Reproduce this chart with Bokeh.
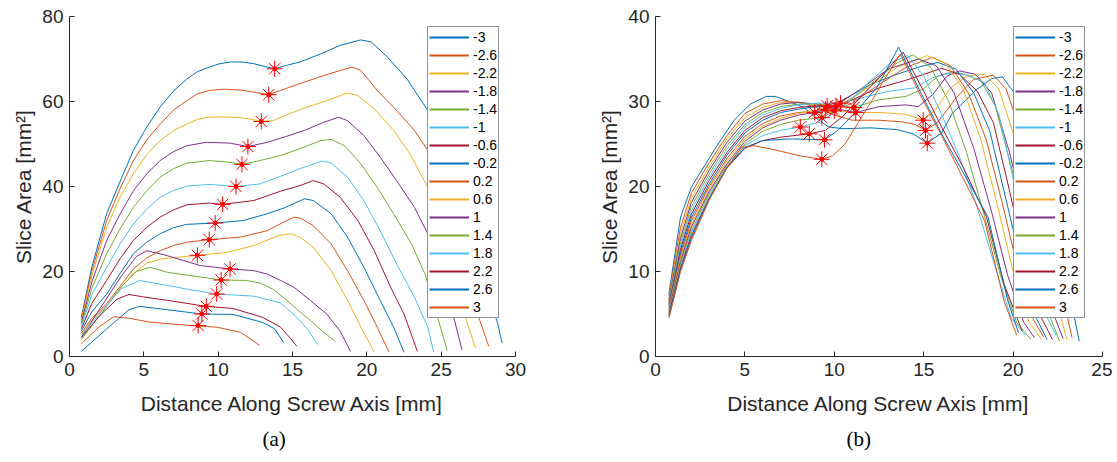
from bokeh.plotting import figure
from bokeh.models import Range1d, FixedTicker, Legend, LegendItem, Title
from bokeh.layouts import row
from bokeh.embed import file_html
from bokeh.resources import INLINE

labels = ["-3", "-2.6", "-2.2", "-1.8", "-1.4", "-1", "-0.6", "-0.2",
          "0.2", "0.6", "1", "1.4", "1.8", "2.2", "2.6", "3"]
palette = ["#0072BD", "#D95319", "#EDB120", "#7E2F8E", "#77AC30", "#4DBEEE", "#A2142F"]
colors = [palette[i % 7] for i in range(16)]

x_label = "Distance Along Screw Axis [mm]"
y_label = "Slice Area [mm²]"
a_xticks = [0, 5, 10, 15, 20, 25, 30]
a_yticks = [0, 20, 40, 60, 80]
b_xticks = [0, 5, 10, 15, 20, 25]
b_yticks = [0, 10, 20, 30, 40]

# ---------------- panel (a) ----------------
a_m30_x = [0.8, 1.5, 2.5, 3.5, 4.3, 5.2, 6.1, 7.0, 7.9, 8.6, 9.4, 10.0, 10.8, 11.6, 12.4, 13.3, 13.8, 14.6, 15.5, 16.9, 18.2, 19.6, 20.3, 21.4, 22.7, 24.1, 25.0, 26.0, 27.0, 28.0, 28.8, 29.1]
a_m30_y = [9.3, 21.0, 33.6, 42.0, 48.5, 54.0, 58.7, 62.5, 65.3, 67.0, 68.1, 68.8, 69.3, 69.3, 68.9, 68.1, 67.7, 68.5, 69.3, 71.2, 73.2, 74.5, 74.0, 70.4, 65.3, 57.9, 48.5, 38.0, 27.0, 16.5, 7.8, 3.1]
a_m26_x = [0.8, 1.5, 2.5, 3.4, 4.3, 5.2, 6.1, 7.0, 7.9, 8.6, 9.4, 10.4, 11.5, 12.4, 13.4, 14.2, 15.5, 17.1, 18.3, 19.0, 19.6, 20.7, 22.0, 23.2, 24.1, 25.0, 26.0, 27.0, 27.6, 28.2]
a_m26_y = [8.9, 20.0, 32.0, 39.5, 46.1, 51.0, 54.7, 58.0, 60.2, 61.8, 62.6, 62.9, 62.7, 62.2, 61.6, 62.6, 64.2, 66.1, 67.4, 68.1, 67.3, 62.6, 57.9, 53.2, 48.5, 38.5, 27.0, 15.5, 8.5, 2.4]
a_m22_x = [0.8, 1.5, 2.5, 3.4, 4.3, 5.2, 6.1, 7.0, 7.9, 8.6, 9.4, 10.4, 11.5, 12.4, 12.9, 13.7, 14.2, 16.0, 17.3, 18.7, 19.4, 20.5, 21.8, 22.9, 24.1, 25.0, 26.0, 26.7, 27.3]
a_m22_y = [8.5, 19.0, 30.4, 37.5, 43.0, 47.5, 50.8, 53.2, 54.7, 55.8, 56.3, 56.4, 56.2, 55.7, 55.3, 55.5, 56.3, 58.7, 60.2, 62.0, 61.4, 58.3, 53.2, 47.7, 39.8, 29.5, 17.5, 8.5, 2.1]
a_m18_x = [0.8, 1.5, 2.5, 3.4, 4.3, 5.2, 6.1, 7.0, 7.9, 9.2, 10.8, 12.0, 13.3, 14.6, 15.8, 17.1, 18.1, 18.7, 19.8, 20.9, 22.0, 23.2, 24.1, 25.0, 25.9, 26.4]
a_m18_y = [8.0, 17.5, 27.3, 33.5, 39.0, 43.0, 46.1, 48.2, 49.6, 50.4, 50.2, 49.4, 50.4, 51.8, 53.2, 55.1, 56.3, 55.5, 52.0, 46.9, 41.4, 35.1, 28.9, 18.5, 8.5, 1.6]
a_m14_x = [0.8, 1.5, 2.5, 3.4, 4.3, 5.2, 6.1, 7.0, 7.9, 9.4, 10.8, 11.6, 12.8, 14.2, 15.5, 16.9, 17.6, 18.5, 19.6, 20.7, 21.8, 23.0, 23.9, 24.7, 25.4]
a_m14_y = [7.5, 16.0, 24.2, 30.0, 35.1, 39.0, 42.2, 44.2, 45.5, 46.1, 45.7, 45.2, 46.1, 47.3, 48.9, 50.8, 51.1, 49.6, 45.3, 39.8, 33.6, 26.5, 19.5, 10.0, 1.4]
a_m10_x = [0.8, 1.5, 2.5, 3.4, 4.3, 5.2, 6.1, 7.0, 7.9, 9.4, 11.2, 12.8, 14.2, 15.5, 17.0, 17.6, 18.7, 19.8, 20.9, 22.0, 23.2, 24.1, 24.5]
a_m10_y = [7.0, 14.5, 21.0, 26.5, 31.2, 34.7, 37.5, 39.1, 40.1, 40.5, 40.0, 40.6, 42.4, 44.2, 46.0, 45.5, 42.2, 36.7, 29.6, 21.8, 14.0, 6.9, 1.0]
a_m06_x = [0.8, 1.5, 2.5, 3.4, 4.3, 5.2, 6.1, 7.0, 7.9, 9.4, 10.3, 12.4, 14.2, 15.5, 16.4, 17.1, 18.2, 19.4, 20.5, 21.6, 22.5, 23.4]
a_m06_y = [6.5, 12.5, 17.9, 23.0, 27.3, 30.4, 32.8, 34.5, 35.7, 36.1, 35.8, 36.7, 38.9, 40.2, 41.4, 40.6, 37.5, 32.0, 24.9, 16.3, 10.0, 1.2]
a_m02_x = [0.8, 1.5, 2.5, 3.4, 4.3, 5.2, 6.1, 7.0, 7.9, 9.8, 11.7, 13.3, 14.4, 15.8, 16.4, 17.6, 18.7, 19.8, 20.9, 21.8, 22.5]
a_m02_y = [6.0, 10.5, 14.7, 19.5, 24.2, 26.9, 28.9, 30.3, 31.1, 31.4, 32.0, 33.6, 34.9, 37.1, 36.7, 33.6, 28.1, 21.0, 13.2, 6.9, 1.0]
a_p02_x = [0.8, 1.5, 2.5, 3.4, 4.3, 5.2, 6.1, 7.0, 7.9, 9.4, 11.5, 13.3, 14.4, 15.1, 15.5, 16.4, 17.6, 18.7, 19.8, 20.7, 21.5]
a_p02_y = [5.5, 9.0, 12.4, 16.5, 20.6, 23.2, 24.9, 26.1, 26.9, 27.5, 28.1, 29.6, 31.6, 32.8, 32.6, 30.8, 26.5, 20.2, 13.2, 6.9, 1.0]
a_p06_x = [0.8, 1.5, 2.5, 3.4, 4.3, 5.2, 6.1, 7.4, 8.6, 10.6, 12.4, 14.1, 14.9, 15.5, 16.4, 17.6, 18.7, 19.6, 20.5]
a_p06_y = [5.0, 8.5, 12.0, 16.0, 19.5, 22.0, 22.9, 23.4, 23.8, 24.5, 26.1, 28.5, 28.9, 28.1, 25.7, 20.2, 13.2, 6.9, 1.0]
a_p10_x = [0.8, 2.0, 3.5, 4.5, 5.2, 6.5, 8.8, 10.8, 12.4, 13.3, 14.2, 15.1, 16.2, 17.3, 18.2, 18.9]
a_p10_y = [4.5, 11.0, 19.0, 23.5, 24.9, 23.8, 21.4, 20.6, 20.2, 19.4, 17.9, 16.3, 13.2, 10.0, 6.0, 1.2]
a_p14_x = [0.8, 2.0, 3.5, 4.5, 5.4, 6.6, 8.8, 10.2, 11.9, 12.8, 13.7, 14.6, 15.5, 16.2, 17.0, 17.9]
a_p14_y = [4.0, 9.5, 16.5, 20.0, 21.0, 19.8, 18.7, 18.0, 17.9, 17.3, 15.8, 13.3, 10.5, 8.5, 6.0, 3.5]
a_p18_x = [0.8, 2.0, 3.5, 4.7, 6.6, 8.0, 9.9, 12.4, 14.2, 15.2, 16.0, 16.7]
a_p18_y = [5.0, 10.0, 16.0, 17.9, 16.7, 15.8, 14.7, 14.2, 12.6, 9.5, 6.5, 2.8]
a_p22_x = [0.8, 2.0, 3.2, 4.0, 5.0, 6.6, 9.2, 11.0, 13.0, 14.2, 14.8, 15.3]
a_p22_y = [4.5, 9.5, 13.5, 14.6, 14.0, 13.2, 11.8, 11.3, 9.2, 6.9, 4.5, 2.4]
a_p26_x = [0.8, 2.5, 4.0, 4.7, 6.6, 8.9, 11.0, 13.0, 13.8, 14.4]
a_p26_y = [1.2, 6.5, 11.0, 11.8, 11.0, 10.0, 9.9, 8.0, 6.5, 3.3]
a_p30_x = [0.8, 2.0, 3.0, 4.0, 5.4, 7.0, 8.6, 9.9, 11.5, 12.8]
a_p30_y = [3.0, 7.0, 9.4, 9.0, 8.1, 7.6, 7.2, 6.9, 5.7, 2.6]

a_star_x = [13.8, 13.4, 12.9, 12.0, 11.6, 11.2, 10.3, 9.8, 9.4, 8.6, 10.8, 10.2, 9.9, 9.2, 8.9, 8.65]
a_star_y = [67.7, 61.6, 55.3, 49.4, 45.2, 40.0, 35.8, 31.4, 27.5, 23.8, 20.6, 18.0, 14.7, 11.8, 10.0, 7.3]

# ---------------- panel (b) ----------------
b_m30_x = [0.75, 1.4, 2.0, 2.7, 3.5, 4.4, 5.3, 6.2, 6.7, 7.6, 8.3, 9.0, 9.7, 10.5, 12.0, 13.5, 14.4, 15.2, 16.0, 16.6, 17.9, 18.8, 19.4, 20.1, 21.0, 22.0, 23.0, 23.7]
b_m30_y = [7.4, 16.4, 19.9, 22.3, 25.0, 27.8, 29.7, 30.6, 30.6, 29.9, 29.3, 28.0, 27.0, 26.8, 26.9, 26.7, 26.2, 25.1, 26.3, 28.6, 31.3, 32.7, 32.9, 30.9, 25.5, 18.0, 9.0, 1.8]
b_m26_x = [0.75, 1.4, 2.0, 3.0, 4.0, 5.0, 6.0, 7.0, 8.0, 9.0, 10.0, 11.0, 12.5, 13.8, 14.5, 15.1, 15.8, 16.8, 17.8, 18.9, 19.6, 20.5, 21.5, 22.5, 23.3]
b_m26_y = [7.2, 15.2, 19.2, 22.8, 26.0, 28.6, 29.7, 30.1, 29.9, 29.3, 28.4, 27.8, 27.8, 27.6, 27.3, 26.6, 27.6, 30.4, 32.6, 33.1, 31.5, 26.0, 18.0, 9.5, 2.2]
b_m22_x = [0.75, 1.4, 2.0, 3.0, 4.0, 5.0, 6.0, 7.0, 8.0, 9.0, 10.0, 11.0, 12.5, 14.0, 14.97, 15.6, 16.5, 17.4, 18.4, 19.2, 20.2, 21.2, 22.2, 23.0]
b_m22_y = [6.9, 14.5, 18.6, 22.3, 25.6, 28.1, 29.3, 29.9, 29.9, 29.5, 29.0, 28.7, 28.7, 28.5, 27.8, 28.9, 31.6, 33.0, 33.2, 31.5, 25.0, 16.5, 8.5, 2.0]
b_m18_x = [0.75, 1.4, 2.0, 3.0, 4.0, 5.0, 6.0, 7.0, 8.0, 9.0, 10.0, 11.2, 12.5, 14.0, 14.7, 15.5, 16.3, 17.0, 17.9, 18.8, 19.8, 20.8, 21.8, 22.8]
b_m18_y = [6.7, 13.9, 18.1, 21.9, 25.2, 27.7, 29.0, 29.7, 29.9, 29.7, 29.2, 28.7, 29.4, 29.6, 29.4, 30.8, 33.0, 33.6, 33.2, 31.0, 24.0, 15.0, 7.5, 2.1]
b_m14_x = [0.75, 1.4, 2.0, 3.0, 4.0, 5.0, 6.0, 7.0, 8.0, 9.0, 10.0, 11.1, 12.5, 14.0, 15.0, 15.8, 16.6, 17.3, 18.2, 19.0, 20.0, 21.0, 22.0, 22.6]
b_m14_y = [6.5, 13.4, 17.6, 21.5, 24.8, 27.3, 28.7, 29.4, 29.7, 29.7, 29.5, 29.3, 30.2, 30.6, 31.5, 33.0, 33.5, 33.2, 32.4, 29.5, 21.5, 12.5, 5.0, 1.8]
b_m10_x = [0.75, 1.4, 2.0, 3.0, 4.0, 5.0, 6.0, 7.0, 8.0, 9.0, 10.35, 11.5, 13.0, 14.5, 15.5, 16.6, 17.5, 18.4, 19.2, 20.1, 21.0, 21.8, 22.4]
b_m10_y = [6.3, 13.0, 17.1, 21.1, 24.4, 27.0, 28.4, 29.2, 29.6, 29.8, 29.8, 30.4, 31.2, 31.6, 32.8, 33.4, 33.1, 32.2, 28.5, 20.0, 11.5, 5.0, 2.5]
b_m06_x = [0.75, 1.4, 2.0, 3.0, 4.0, 5.0, 6.0, 7.0, 8.0, 9.0, 10.1, 11.0, 12.5, 14.0, 15.0, 16.0, 17.0, 18.0, 18.9, 19.8, 20.7, 21.6, 22.2]
b_m06_y = [6.1, 12.6, 16.7, 20.7, 24.0, 26.6, 28.1, 28.9, 29.3, 29.5, 29.4, 30.2, 31.6, 32.5, 33.2, 33.9, 33.2, 31.2, 27.5, 19.5, 11.0, 4.5, 2.0]
b_m02_x = [0.75, 1.4, 2.0, 3.0, 4.0, 5.0, 6.0, 7.0, 8.0, 9.0, 9.6, 10.5, 12.0, 13.5, 14.8, 15.8, 16.8, 17.8, 18.7, 19.6, 20.5, 21.3, 21.9]
b_m02_y = [6.0, 12.2, 16.3, 20.3, 23.7, 26.3, 27.8, 28.7, 29.1, 29.4, 29.5, 30.2, 32.0, 33.2, 34.1, 34.6, 33.8, 31.0, 26.5, 18.5, 10.5, 4.5, 2.0]
b_p02_x = [0.75, 1.4, 2.0, 3.0, 4.0, 5.0, 6.0, 7.0, 8.0, 9.0, 10.0, 11.0, 12.5, 14.0, 15.5, 16.5, 17.5, 18.5, 19.4, 20.3, 21.1, 21.7]
b_p02_y = [5.8, 11.8, 15.9, 20.0, 23.3, 25.9, 27.4, 28.3, 28.7, 28.9, 28.9, 29.8, 32.0, 34.0, 35.2, 34.2, 31.0, 25.5, 18.0, 10.0, 4.5, 2.3]
b_p06_x = [0.75, 1.4, 2.0, 3.0, 4.0, 5.0, 6.0, 7.0, 8.0, 9.5, 10.5, 12.0, 13.5, 15.2, 16.2, 17.2, 18.2, 19.1, 20.0, 20.9, 21.6]
b_p06_y = [5.6, 11.5, 15.5, 19.7, 23.0, 25.6, 27.1, 28.0, 28.6, 29.1, 29.8, 31.8, 34.0, 35.4, 34.5, 31.5, 25.5, 18.0, 10.0, 4.0, 2.0]
b_p10_x = [0.75, 1.4, 2.0, 3.0, 4.0, 5.0, 6.0, 7.0, 8.0, 8.9, 10.0, 11.5, 13.0, 14.7, 15.7, 16.7, 17.8, 18.8, 19.7, 20.6, 21.2]
b_p10_y = [5.4, 11.2, 15.2, 19.4, 22.7, 25.3, 26.9, 27.8, 28.4, 28.7, 29.4, 31.5, 33.8, 35.0, 34.2, 31.0, 24.5, 17.0, 9.5, 4.0, 2.2]
b_p14_x = [0.75, 1.4, 2.0, 3.0, 4.0, 5.0, 6.0, 7.0, 8.0, 9.3, 10.5, 12.0, 13.5, 14.4, 15.4, 16.4, 17.4, 18.4, 19.3, 20.2, 21.0]
b_p14_y = [5.2, 10.9, 14.8, 19.1, 22.5, 25.0, 26.5, 27.3, 27.8, 28.1, 29.5, 32.0, 34.5, 35.5, 34.0, 30.0, 24.0, 16.5, 9.5, 4.0, 2.0]
b_p18_x = [0.75, 1.4, 2.0, 3.0, 4.0, 5.0, 6.0, 7.0, 8.1, 9.2, 10.5, 12.0, 13.2, 14.1, 15.0, 16.0, 17.0, 18.0, 19.0, 19.9, 20.7]
b_p18_y = [5.0, 10.6, 14.5, 18.8, 22.3, 24.8, 26.0, 26.6, 27.0, 27.6, 29.4, 32.4, 34.6, 35.4, 33.0, 28.5, 23.5, 17.5, 10.5, 4.5, 2.5]
b_p22_x = [0.75, 1.4, 2.0, 3.0, 4.0, 5.0, 6.0, 7.0, 8.6, 9.5, 10.5, 11.5, 12.7, 13.85, 15.0, 16.0, 17.2, 18.5, 19.5, 20.5]
b_p22_y = [4.9, 10.4, 14.2, 18.6, 22.2, 24.5, 25.4, 25.8, 26.2, 26.6, 28.3, 30.6, 33.2, 35.8, 31.2, 27.0, 22.3, 16.5, 8.5, 3.0]
b_p26_x = [0.75, 1.4, 2.0, 3.0, 4.0, 5.0, 6.0, 7.5, 9.45, 10.2, 11.3, 12.4, 13.6, 14.8, 16.0, 17.3, 18.6, 19.7, 20.3]
b_p26_y = [4.7, 10.2, 13.9, 18.5, 22.3, 24.6, 25.4, 25.6, 25.5, 26.6, 29.0, 31.7, 36.4, 31.2, 26.2, 21.3, 16.4, 6.6, 2.8]
b_p30_x = [0.75, 1.4, 2.0, 3.0, 4.0, 4.8, 5.5, 6.5, 8.1, 9.3, 9.9, 10.6, 11.3, 12.1, 12.8, 13.7, 14.8, 16.0, 17.2, 18.4, 19.5, 20.2]
b_p30_y = [4.5, 10.0, 13.6, 18.4, 22.2, 24.6, 24.8, 24.4, 23.6, 23.2, 23.6, 25.0, 27.4, 30.1, 32.6, 35.6, 30.8, 26.0, 21.0, 16.0, 6.5, 2.5]

b_star_x = [15.2, 15.1, 14.97, 11.2, 11.1, 10.35, 10.1, 9.6, 10.0, 9.5, 8.9, 9.3, 8.1, 8.6, 9.45, 9.3]
b_star_y = [25.1, 26.6, 27.8, 28.7, 29.3, 29.8, 29.4, 29.5, 28.9, 29.1, 28.7, 28.1, 27.0, 26.2, 25.5, 23.2]

a_series = [(a_m30_x, a_m30_y), (a_m26_x, a_m26_y), (a_m22_x, a_m22_y), (a_m18_x, a_m18_y),
            (a_m14_x, a_m14_y), (a_m10_x, a_m10_y), (a_m06_x, a_m06_y), (a_m02_x, a_m02_y),
            (a_p02_x, a_p02_y), (a_p06_x, a_p06_y), (a_p10_x, a_p10_y), (a_p14_x, a_p14_y),
            (a_p18_x, a_p18_y), (a_p22_x, a_p22_y), (a_p26_x, a_p26_y), (a_p30_x, a_p30_y)]
b_series = [(b_m30_x, b_m30_y), (b_m26_x, b_m26_y), (b_m22_x, b_m22_y), (b_m18_x, b_m18_y),
            (b_m14_x, b_m14_y), (b_m10_x, b_m10_y), (b_m06_x, b_m06_y), (b_m02_x, b_m02_y),
            (b_p02_x, b_p02_y), (b_p06_x, b_p06_y), (b_p10_x, b_p10_y), (b_p14_x, b_p14_y),
            (b_p18_x, b_p18_y), (b_p22_x, b_p22_y), (b_p26_x, b_p26_y), (b_p30_x, b_p30_y)]

FONT = "Liberation Sans"
INK = "#262626"


def make_panel(series, sx, sy, xmax, ymax, xticks, yticks, width, left, right, caption, cap_offset):
    p = figure(width=width, height=460, x_range=Range1d(0, xmax), y_range=Range1d(0, ymax),
               output_backend="svg", toolbar_location=None,
               min_border_left=left, min_border_right=right, min_border_top=16, min_border_bottom=104)
    p.outline_line_color = None
    p.grid.visible = False
    p.background_fill_color = "white"
    p.xaxis.ticker = FixedTicker(ticks=xticks)
    p.yaxis.ticker = FixedTicker(ticks=yticks)
    p.xaxis.axis_label = x_label
    p.yaxis.axis_label = y_label
    for ax in (p.xaxis[0], p.yaxis[0]):
        ax.axis_line_color = INK
        ax.axis_line_width = 1
        ax.major_tick_line_color = INK
        ax.major_tick_in = 5
        ax.major_tick_out = 0
        ax.minor_tick_line_color = None
        ax.major_label_text_font = FONT
        ax.major_label_text_font_size = "19px"
        ax.major_label_text_color = INK
        ax.axis_label_text_font = FONT
        ax.axis_label_text_font_size = "21px"
        ax.axis_label_text_font_style = "normal"
        ax.axis_label_text_color = INK
    p.xaxis.major_label_standoff = 6
    p.yaxis.major_label_standoff = 6
    p.xaxis.axis_label_standoff = 13
    p.yaxis.axis_label_standoff = 4

    items = []
    for (x, y), c, lab in zip(series, colors, labels):
        p.line(x, y, line_color=c, line_width=1)
        # legend key drawn from a renderer that lies outside the visible ranges
        key = p.line([-xmax, -xmax * 0.9], [-ymax, -ymax * 0.9], line_color=c, line_width=2)
        items.append(LegendItem(label=lab, renderers=[key]))

    p.scatter(sx, sy, marker="asterisk", size=16, line_color="red", line_width=1)
    p.scatter(sx, sy, marker="circle", size=4, line_color="red", fill_color="red")

    legend = Legend(items=items, location=(358, 38), margin=0, padding=1, spacing=0,
                    glyph_width=40, glyph_height=18, label_height=18, label_standoff=4,
                    label_text_font=FONT, label_text_font_size="14px", label_text_color="black",
                    border_line_color=INK, border_line_width=1,
                    background_fill_color="white", background_fill_alpha=1.0)
    p.add_layout(legend)
    p.add_layout(Title(text=caption, align="left", offset=cap_offset, standoff=14,
                       text_font="Liberation Serif", text_font_size="21px",
                       text_font_style="normal", text_color="black"), "below")
    return p


p1 = make_panel(a_series, a_star_x, a_star_y, 30, 80, a_xticks, a_yticks,
                588, 69, 73, "(a)", 193)
p2 = make_panel(b_series, b_star_x, b_star_y, 25, 40, b_xticks, b_yticks,
                524, 67, 10, "(b)", 191)

layout = row(p1, p2)
open("out.html", "w").write(file_html(layout, INLINE))
